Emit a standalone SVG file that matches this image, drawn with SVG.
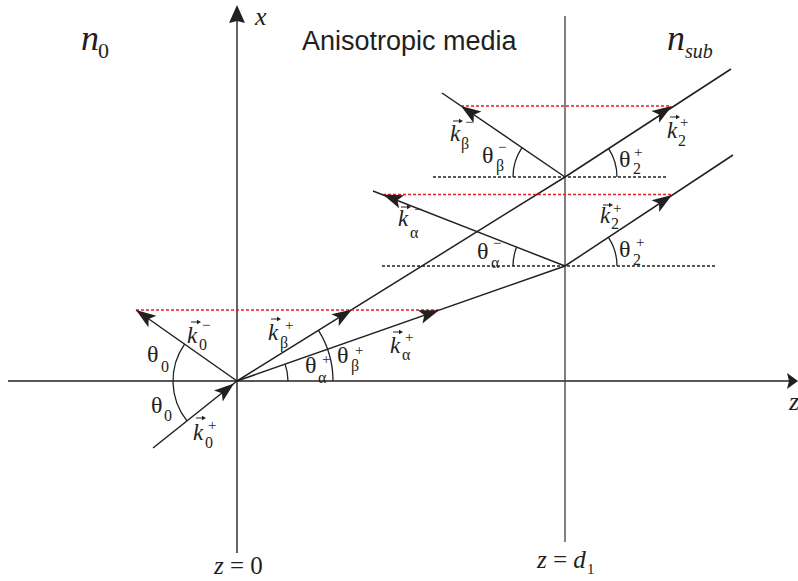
<svg xmlns="http://www.w3.org/2000/svg" width="798" height="581" viewBox="0 0 798 581" font-family="'Liberation Serif','Times New Roman',serif">
<style>
.ax{stroke:#231f20;stroke-width:1.4;fill:none}
.ax2{stroke:#4a4a4a;stroke-width:1.4;fill:none}
.ray{stroke:#231f20;stroke-width:1.5;fill:none}
.red{stroke:#ed1c24;stroke-width:1.4;stroke-dasharray:3 2;fill:none}
.blk{stroke:#231f20;stroke-width:1.3;stroke-dasharray:3 2;fill:none}
.arc{stroke:#231f20;stroke-width:1.3;fill:none}
.ah{fill:#231f20;stroke:none}
.t{font-family:'Liberation Serif','Times New Roman',serif;fill:#231f20}
.k{font-style:italic;font-size:23px}
.th{font-size:24px}
.sb{font-size:16px}
.sp{font-size:15px}
.it{font-style:italic}
</style>
<defs>
<path id="ah" class="ah" d="M0,0 L-20,-7 L-15.5,0 L-20,7 Z"/>
<g id="vec"><path d="M0,0 H7" stroke="#231f20" stroke-width="1"/><path d="M6,-2.2 L10,0 L6,2.2 Z" fill="#231f20"/></g>
</defs>

<g id="axes">
<path class="ax" d="M237,20 V553"/>
<path class="ax" d="M8,381 H790"/>
<path class="ax2" d="M565,16 V542"/>
<path class="ah" d="M237,5 L245,23 L237,21 L229,23 Z"/>
<path class="ah" d="M798,381 L787,373 L789,381 L787,389 Z"/>
</g>

<g id="connectors">
<path class="ray" d="M153,448 L237,381"/>
<path class="ray" d="M237,381 L136,310"/>
<path class="ray" d="M237,381 L565,177 L731,69"/>
<path class="ray" d="M237,381 L565,266 L733,155"/>
<path class="ray" d="M565,177 L442,93"/>
<path class="ray" d="M565,266 L373,191"/>
<path class="red" d="M461,106 H670"/>
<path class="red" d="M383,194.5 H672"/>
<path class="red" d="M136,310 H439"/>
<path class="blk" d="M433,177 H668"/>
<path class="blk" d="M382,266 H716"/>
<use href="#ah" transform="translate(234,383.5) rotate(-38.6)"/>
<use href="#ah" transform="translate(136,310) rotate(-144.9)"/>
<use href="#ah" transform="translate(352,309.5) rotate(-31.9)"/>
<use href="#ah" transform="translate(439,310.2) rotate(-19.3)"/>
<use href="#ah" transform="translate(672,106) rotate(-33.1)"/>
<use href="#ah" transform="translate(672,195) rotate(-33.5)"/>
<use href="#ah" transform="translate(461,106) rotate(-145.7)"/>
<use href="#ah" transform="translate(383,194.5) rotate(-158.7)"/>
</g>

<g id="arcs">
<path class="arc" d="M184.6,344.2 A64,64 0 0 0 187,420.9"/>
<path class="arc" d="M288,381 A51,51 0 0 0 285.1,364.1"/>
<path class="arc" d="M333,381 A96,96 0 0 0 318.5,330.3"/>
<path class="arc" d="M513,177 A52,52 0 0 1 522,147.7"/>
<path class="arc" d="M513,266 A52,52 0 0 1 516.6,247.1"/>
<path class="arc" d="M617,177 A52,52 0 0 0 608.6,148.6"/>
<path class="arc" d="M617,266 A52,52 0 0 0 608.4,237.3"/>
</g>

<g id="title"><text x="302" y="50" fill="#231f20" style="font-family:'Liberation Sans',Arial,sans-serif;font-size:27px">Anisotropic media</text></g>
<g id="n0" class="t"><text class="t it" x="81" y="50" font-size="36">n</text><text class="t" x="98" y="58" font-size="22">0</text></g>
<g id="nsub" class="t"><text class="t it" x="667" y="50" font-size="36">n</text><text class="t it" x="685" y="58" font-size="20">sub</text></g>
<g id="xlabel"><text class="t it" x="255" y="25" font-size="26">x</text></g>
<g id="zlabel"><text class="t it" x="789" y="410" font-size="26">z</text></g>
<g id="z0"><text class="t" x="214" y="574" font-size="25"><tspan class="it">z</tspan> = 0</text></g>
<g id="zd1"><text class="t" x="537" y="568" font-size="25"><tspan class="it">z</tspan> = <tspan class="it">d</tspan></text><text class="t" x="587" y="574" font-size="15">1</text></g>

<g id="k0m"><use href="#vec" x="191" y="322"/><text class="t k" x="187" y="343">k</text><text class="t sb" x="199" y="350">0</text><text class="t sp" x="202" y="330">−</text></g>
<g id="k0p"><use href="#vec" x="196" y="418"/><text class="t k" x="193" y="440">k</text><text class="t sb" x="205" y="448">0</text><text class="t sp" x="208" y="430">+</text></g>
<g id="kbp"><use href="#vec" x="271" y="319"/><text class="t k" x="268" y="340">k</text><text class="t sb" x="280" y="348">β</text><text class="t sp" x="285" y="330">+</text></g>
<g id="kap"><use href="#vec" x="393" y="332"/><text class="t k" x="390" y="353">k</text><text class="t sb" x="402" y="360">α</text><text class="t sp" x="405" y="342">+</text></g>
<g id="kbm"><use href="#vec" x="453" y="121"/><text class="t k" x="450" y="141">k</text><text class="t sb" x="461" y="149">β</text><text class="t sp" x="465" y="127">−</text></g>
<g id="kam"><use href="#vec" x="401" y="207"/><text class="t k" x="398" y="226">k</text><text class="t sb" x="410" y="238">α</text><text class="t sp" x="414" y="214">−</text></g>
<g id="k2p1"><use href="#vec" x="670" y="117"/><text class="t k" x="667" y="138">k</text><text class="t sb" x="678" y="146">2</text><text class="t sp" x="680" y="127">+</text></g>
<g id="k2p2"><use href="#vec" x="603" y="205"/><text class="t k" x="600" y="223">k</text><text class="t sb" x="611" y="229">2</text><text class="t sp" x="613" y="213">+</text></g>

<g id="t0a"><text class="t th" x="147" y="362">θ</text><text class="t sb" x="161" y="372">0</text></g>
<g id="t0b"><text class="t th" x="151" y="413">θ</text><text class="t sb" x="164" y="421">0</text></g>
<g id="tap"><text class="t th" x="305" y="373">θ</text><text class="t sb" x="318" y="383">α</text><text class="t sp" x="322" y="364">+</text></g>
<g id="tbp"><text class="t th" x="337" y="363">θ</text><text class="t sb" x="351" y="371">β</text><text class="t sp" x="355" y="355">+</text></g>
<g id="tbm"><text class="t th" x="482" y="163">θ</text><text class="t sb" x="496" y="171">β</text><text class="t sp" x="498" y="152">−</text></g>
<g id="tam"><text class="t th" x="477" y="259">θ</text><text class="t sb" x="491" y="268">α</text><text class="t sp" x="493" y="248">−</text></g>
<g id="t2a"><text class="t th" x="619" y="167">θ</text><text class="t sb" x="633" y="174">2</text><text class="t sp" x="634" y="157">+</text></g>
<g id="t2b"><text class="t th" x="619" y="257">θ</text><text class="t sb" x="633" y="265">2</text><text class="t sp" x="636" y="247">+</text></g>
</svg>
